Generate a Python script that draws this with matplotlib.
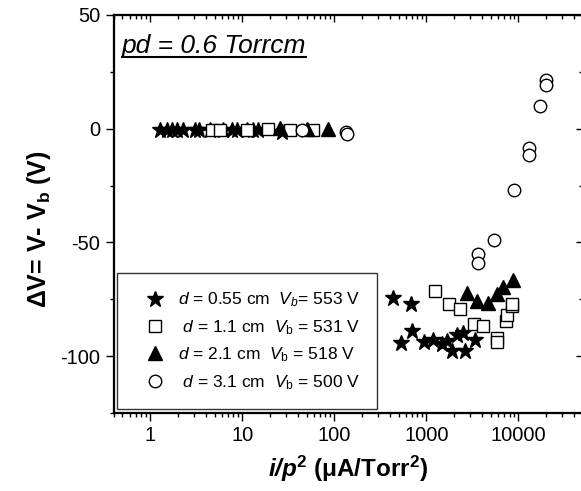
import matplotlib
matplotlib.use("Agg")
import matplotlib.pyplot as plt
from matplotlib import ticker
from matplotlib.lines import Line2D

plt.rcParams['font.family'] = ['Liberation Sans', 'DejaVu Sans']
plt.rcParams['mathtext.fontset'] = 'custom'
plt.rcParams['mathtext.rm'] = 'Liberation Sans'
plt.rcParams['mathtext.it'] = 'Liberation Sans:italic'
plt.rcParams['mathtext.bf'] = 'Liberation Sans:bold'
plt.rcParams['mathtext.bfit'] = 'Liberation Sans:italic:bold'
plt.rcParams['axes.unicode_minus'] = False

# d = 0.55 cm
star_x = [1.28, 1.52, 1.72, 1.95, 2.3, 3.08, 3.35, 4.48, 6.25, 7.7, 8.7, 11.2, 13.2, 15.0, 26.9,
          438, 677, 531, 705, 945, 1191, 1470, 1666, 1888, 2139, 2524, 2631, 3381]
star_y = [-0.5, -0.5, -0.5, -0.5, -0.5, -0.6, -0.6, -0.6, -0.5, -0.6, -0.6, -0.5, -0.6, -0.6, -1.6,
          -74.4, -77.3, -94.3, -89.0, -93.8, -92.7, -94.7, -93.5, -97.6, -90.9, -89.9, -97.9, -93.1]
# d = 1.1 cm
sq_x = [4.7, 5.75, 11.2, 19.2, 33, 59,
        1243, 1778, 2322, 3299, 4096, 5810, 5810, 7333, 7464, 8456, 8590]
sq_y = [-0.4, -0.4, -0.4, -0.3, -0.4, -0.5,
        -71.2, -77.0, -79.2, -85.8, -86.6, -92.2, -93.9, -84.7, -82.0, -77.9, -77.2]
# d = 2.1 cm
tri_x = [25.8, 50, 86, 2747, 3580, 4712, 5810, 6749, 8810]
tri_y = [0.3, -0.3, -0.3, -72.2, -75.9, -76.6, -72.9, -69.6, -66.7]
# d = 3.1 cm
circ_x = [44, 133, 137, 3670, 3670, 5470, 9020, 13030, 13030, 17160, 19780, 19780]
circ_y = [-0.5, -1.3, -2.3, -55.0, -59.0, -49.0, -26.9, -8.5, -11.6, 9.8, 21.2, 19.3]

labels = [r"$d$ = 0.55 cm  $V_b$= 553 V",
          r" $d$ = 1.1 cm  $V_\mathrm{b}$ = 531 V",
          r"$d$ = 2.1 cm  $V_\mathrm{b}$ = 518 V",
          r" $d$ = 3.1 cm  $V_\mathrm{b}$ = 500 V"]

fig = plt.figure(figsize=(5.81, 4.91), dpi=100)
ax = fig.add_axes([0.1954, 0.1589, 0.8078, 0.8106])

ax.plot(star_x, star_y, '*', color='black', ms=12, ls='none', label=labels[0])
ax.plot(sq_x, sq_y, 's', mfc='white', mec='black', mew=1, ms=8, ls='none', label=labels[1])
ax.plot(tri_x, tri_y, '^', color='black', ms=10, ls='none', label=labels[2])
ax.plot(circ_x, circ_y, 'o', mfc='white', mec='black', mew=1, ms=9, ls='none', label=labels[3])

ax.set_xscale('log')
ax.set_xlim(0.4, 50000)
ax.set_ylim(-125, 50)
ax.xaxis.set_major_locator(ticker.LogLocator(base=10, numticks=20))
ax.xaxis.set_minor_locator(ticker.LogLocator(base=10, subs=range(2, 10), numticks=20))
ax.xaxis.set_major_formatter(ticker.FuncFormatter(lambda v, p: "%d" % v if 1 <= v <= 10000 else ""))
ax.xaxis.set_minor_formatter(ticker.NullFormatter())
ax.yaxis.set_major_locator(ticker.MultipleLocator(50))
ax.yaxis.set_minor_locator(ticker.MultipleLocator(25))
ax.tick_params(which='major', direction='out', length=6, width=1, labelsize=14.5)
ax.tick_params(which='minor', direction='out', length=3, width=1)
for s in ax.spines.values():
    s.set_linewidth(1.5)

# mirror axes with ticks pointing inside
axt = ax.twiny()
axt.set_xscale('log')
axt.set_xlim(ax.get_xlim())
axt.xaxis.set_major_locator(ticker.LogLocator(base=10, numticks=20))
axt.xaxis.set_minor_locator(ticker.LogLocator(base=10, subs=range(2, 10), numticks=20))
axt.tick_params(which='major', direction='in', length=5, width=1, labeltop=False)
axt.tick_params(which='minor', direction='in', length=3, width=1)
axr = ax.twinx()
axr.set_ylim(ax.get_ylim())
axr.yaxis.set_major_locator(ticker.MultipleLocator(50))
axr.yaxis.set_minor_locator(ticker.MultipleLocator(25))
axr.tick_params(which='major', direction='in', length=5, width=1, labelright=False)
axr.tick_params(which='minor', direction='in', length=3, width=1)
for a in (axt, axr):
    for s in a.spines.values():
        s.set_linewidth(1.5)

ax.set_xlabel(r"$\mathbfit{i/p}^\mathbf{2}$ (μA/Torr$^\mathbf{2}$)", fontsize=17.5, fontweight='bold', labelpad=6)
ax.set_ylabel(r"ΔV= V- V$_\mathbf{b}$ (V)", fontsize=18, fontweight='bold')
ax.yaxis.set_label_coords(-0.129, 0.462)

leg = ax.legend(loc='lower left', bbox_to_anchor=(0.007, 0.01), borderaxespad=0,
                fontsize=12.5, frameon=True, fancybox=False, edgecolor='black',
                handletextpad=0.1, labelspacing=0.5, borderpad=1.0, handlelength=2.4)
leg.get_frame().set_linewidth(1)
leg.set_zorder(5)

t = ax.text(0.018, 0.905, "pd = 0.6 Torrcm", transform=ax.transAxes, fontsize=19,
            fontstyle='italic', ha='left', va='baseline')
fig.canvas.draw()
bb = t.get_window_extent(fig.canvas.get_renderer())
yline = bb.y0 + 1
fig.add_artist(Line2D([bb.x0 / fig.bbox.width, bb.x1 / fig.bbox.width],
                      [yline / fig.bbox.height, yline / fig.bbox.height],
                      transform=fig.transFigure, color='black', lw=1.5))

fig.savefig("out.png", dpi=100)
